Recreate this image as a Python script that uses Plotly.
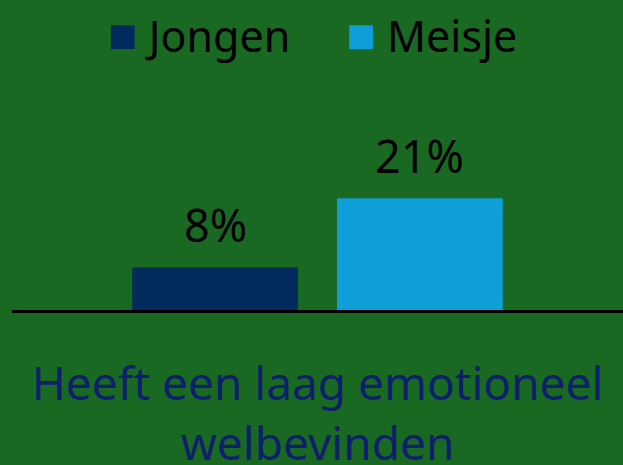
import plotly.graph_objects as go

categories = ["Heeft een laag emotioneel<br>welbevinden"]
series_names = ["Jongen", "Meisje"]
jongen_values = [8]
meisje_values = [21]
colors = ["#002B5C", "#0F9FD8"]
bg = "#196923"

BARGAP = 0.33
BARGROUPGAP = 0.19
L, R = 12, 0
W, H = 623, 465

fig = go.Figure()
for name, vals, col in zip(series_names, [jongen_values, meisje_values], colors):
    fig.add_trace(go.Bar(x=categories, y=vals, name=name, marker_color=col,
                         marker_line_width=0, showlegend=False, hoverinfo="skip"))

plot_w = W - L - R
slot = (1 - BARGAP) * plot_w / len(series_names)
for i, vals in enumerate([jongen_values, meisje_values]):
    off = (i - (len(series_names) - 1) / 2) * slot
    for c, v in zip(categories, vals):
        fig.add_annotation(x=c, y=v, text=f"{v}%", showarrow=False, xshift=off,
                           yanchor="bottom", yshift=10,
                           font=dict(size=45, color="black", family="Noto Sans"))

legend_text = "&nbsp;&nbsp;&nbsp;&nbsp;&nbsp;".join(
    f"<span style='color:{c};font-size:49px'>■</span> {n}" for n, c in zip(series_names, colors))
fig.add_annotation(xref="paper", yref="paper", x=0.492, y=1.0, xanchor="center",
                   yanchor="bottom", yshift=-8, showarrow=False, text=legend_text,
                   font=dict(size=43, color="black", family="Noto Sans"))

fig.update_layout(
    width=W, height=H,
    paper_bgcolor=bg, plot_bgcolor=bg,
    margin=dict(l=L, r=R, t=60, b=155, autoexpand=False),
    barmode="group", bargap=BARGAP, bargroupgap=BARGROUPGAP,
    showlegend=False,
    xaxis=dict(showline=True, linecolor="black", linewidth=3, ticks="",
               automargin=False,
               tickfont=dict(size=46, color="#0E1F6B", family="Noto Sans"),
               ticklabelstandoff=32, showgrid=False),
    yaxis=dict(visible=False, range=[0, 47], showgrid=False, zeroline=False,
               automargin=False),
)
fig.write_html("out.html", config={"displayModeBar": False},
               post_script="document.body.style.margin='0';")
